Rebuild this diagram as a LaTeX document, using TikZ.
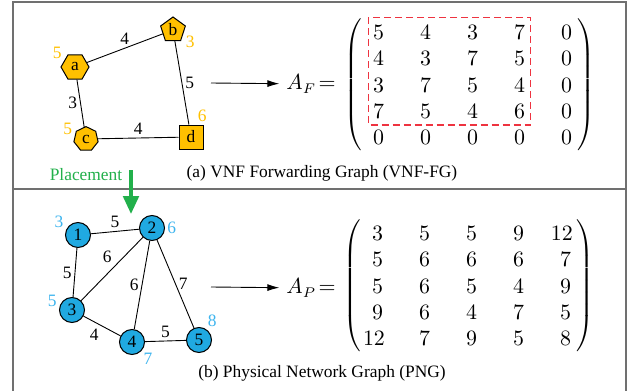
\documentclass[tikz,border=0pt]{standalone}
\usepackage{fontspec}
\setmainfont{Liberation Serif}
\usetikzlibrary{shapes.geometric,arrows.meta,matrix}
\definecolor{vnfgold}{HTML}{FFC000}
\definecolor{pnblue}{HTML}{20A9E1}
\definecolor{wtblue}{HTML}{3DB4EE}
\definecolor{placegreen}{HTML}{22B04B}
\definecolor{fgred}{HTML}{EE3340}
\definecolor{framegray}{HTML}{707070}
\newcommand{\txtsize}{\fontsize{8.7}{10}\selectfont}
\newcommand{\matsize}{\fontsize{10.5}{12}\selectfont}
\tikzset{
  vnf/.style={draw,fill=vnfgold,inner sep=0pt,line width=0.5pt,font=\txtsize},
  pn/.style={draw,circle,fill=pnblue,minimum size=12.5pt,inner sep=0pt,line width=0.5pt,font=\txtsize},
  vwt/.style={text=vnfgold,inner sep=1pt,font=\txtsize},
  pwt/.style={text=wtblue,inner sep=1pt,font=\txtsize},
  elabel/.style={inner sep=1.5pt,font=\txtsize},
  link/.style={line width=0.45pt},
  every left delimiter/.style={xshift=3.5pt},
  every right delimiter/.style={xshift=-2pt},
  mat/.style={matrix of math nodes,left delimiter=(,right delimiter=),
    nodes={text width=10pt,align=right,inner sep=0pt,text height=7pt,text depth=0pt,font=\matsize},
    column sep=13.5pt,row sep=6.1pt},
  caption/.style={font=\txtsize}
}
\begin{document}
\begin{tikzpicture}[x=0.5pt,y=-0.5pt,>={Latex[length=6pt,width=3.5pt]}]
\useasboundingbox (0,0) rectangle (628,391);
% frame
\draw[framegray,line width=0.65pt] (13,391)--(13,2)--(626,2)--(626,391);
\draw[framegray,line width=0.65pt] (13,189)--(626,189);
% (a) VNF-FG
\node[vnf,regular polygon,regular polygon sides=6,minimum size=14pt,label={[vwt]150:5}] (a) at (75,67) {a};
\node[vnf,regular polygon,regular polygon sides=5,minimum size=13pt,label={[vwt]-20:3}] (b) at (173,30) {b};
\node[vnf,regular polygon,regular polygon sides=7,minimum size=12.4pt,label={[vwt]170:5}] (c) at (86,139) {c};
\node[vnf,minimum size=12pt,label={[vwt]70:6}] (d) at (191,137) {d};
\draw[link] (a) -- node[elabel,above]{4} (b);
\draw[link] (b) -- node[elabel,right]{5} (d);
\draw[link] (a) -- node[elabel,left]{3} (c);
\draw[link] (c) -- node[elabel,above]{4} (d);
\coordinate (fgout) at (211,83);
\node[font=\matsize] (AFlab) at (311,84) {$A_F\!=$};
\draw[->,link] (fgout) -- (AFlab);
\matrix[mat] (AF) at (468,85) {
5 & 4 & 3 & 7 & 0\\
4 & 3 & 7 & 5 & 0\\
3 & 7 & 5 & 4 & 0\\
7 & 5 & 4 & 6 & 0\\
0 & 0 & 0 & 0 & 0\\
};
\draw[fgred,line width=0.6pt,dash pattern=on 3.5pt off 2pt]
  ([xshift=-8pt,yshift=4pt]AF-1-1.north east) rectangle ([xshift=2.5pt,yshift=-3.2pt]AF-4-4.south east);
\node[caption] (capa) at (322,173) {(a) VNF Forwarding Graph (VNF-FG)};
% placement
\node[caption,text=placegreen] (place) at (86,175) {Placement};
\coordinate (pstart) at (131,170);
\coordinate (pend) at (131,214);
\draw[placegreen,line width=1.7pt,-{Triangle[length=9pt,width=7.8pt]}] (pstart) -- (pend);
% (b) PNG
\node[pn,label={[pwt]160:3}] (n1) at (78,235) {1};
\node[pn,label={[pwt]0:6}] (n2) at (152,228) {2};
\node[pn,label={[pwt]175:5}] (n3) at (72,310) {3};
\node[pn,label={[pwt]-45:7}] (n4) at (132,342) {4};
\node[pn,label={[pwt]60:8}] (n5) at (199,340) {5};
\draw[link] (n1) -- node[elabel,above]{5} (n2);
\draw[link] (n1) -- node[elabel,left]{5} (n3);
\draw[link] (n3) -- node[elabel,above left,pos=0.55]{6} (n2);
\draw[link] (n2) -- node[elabel,left]{6} (n4);
\draw[link] (n2) -- node[elabel,right]{7} (n5);
\draw[link] (n3) -- node[elabel,below left]{4} (n4);
\draw[link] (n4) -- node[elabel,above]{5} (n5);
\coordinate (pnout) at (211,287);
\node[font=\matsize] (APlab) at (311,288) {$A_P\!=$};
\draw[->,link] (pnout) -- (APlab);
\matrix[mat] (AP) at (467,286) {
3 & 5 & 5 & 9 & 12\\
5 & 6 & 6 & 6 & 7\\
5 & 6 & 5 & 4 & 9\\
9 & 6 & 4 & 7 & 5\\
12 & 7 & 9 & 5 & 8\\
};
\node[caption] (capb) at (322,373) {(b) Physical Network Graph (PNG)};
\end{tikzpicture}
\end{document}
